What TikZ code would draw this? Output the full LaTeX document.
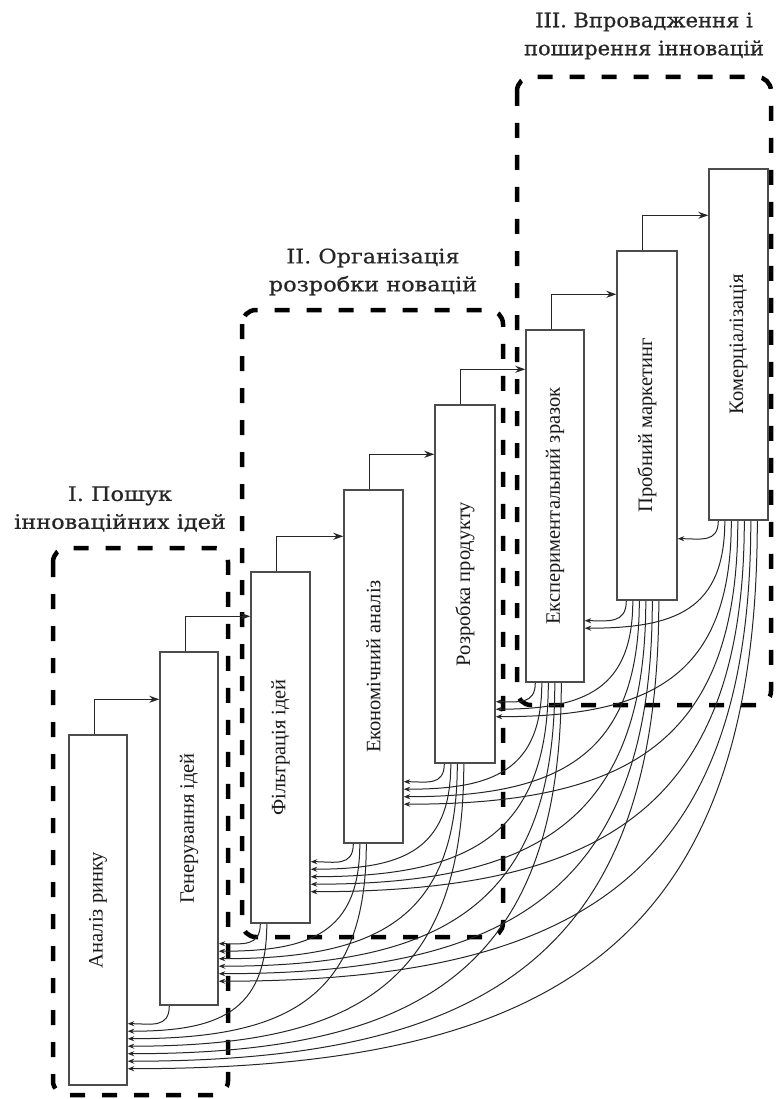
\documentclass[tikz,border=0pt]{standalone}
\usepackage{fontspec}
\setmainfont{Liberation Serif}
\newfontfamily\ttlfont[FakeStretch=1.12,FakeBold=0.6]{DejaVu Serif}
\newfontfamily\ttlnarrow[FakeStretch=1.05,FakeBold=0.6]{DejaVu Serif}
\usetikzlibrary{arrows.meta,calc}
\pgfdeclarelayer{bg}
\pgfsetlayers{bg,main}
\begin{document}
\begin{tikzpicture}[x=1pt,y=-1pt,
  blk/.style={draw=black!70, line width=1.4pt, fill=white, inner sep=0pt},
  lbl/.style={font=\fontsize{20.5}{24}\selectfont, text=black!90, rotate=90, inner sep=0pt},
  fwd/.style={draw=black!85, line width=1.2pt, -{Stealth[length=10pt,width=7pt]}},
  fb/.style={draw=black!85, line width=1pt, -{Stealth[length=6.5pt,width=5pt]}},
  grp/.style={draw=black, line width=4.5pt, dash pattern=on 15pt off 17pt, rounded corners=14pt},
  ttl/.style={font=\ttlfont\fontsize{20}{28}\selectfont, align=center, text=black!85, inner sep=0pt}]
\useasboundingbox (0,0) rectangle (776,1099);

% boxes
\node[blk, minimum width=58pt, minimum height=350pt] (b1) at (98,910) {};
\node[blk, minimum width=58pt, minimum height=353pt] (b2) at (189,828.5) {};
\node[blk, minimum width=59pt, minimum height=351pt] (b3) at (280.5,747.5) {};
\node[blk, minimum width=59pt, minimum height=353pt] (b4) at (373.5,666.5) {};
\node[blk, minimum width=60pt, minimum height=358pt] (b5) at (465,584) {};
\node[blk, minimum width=58pt, minimum height=352pt] (b6) at (555,506) {};
\node[blk, minimum width=60pt, minimum height=349pt] (b7) at (647,425.5) {};
\node[blk, minimum width=59pt, minimum height=351pt] (b8) at (738.5,344.5) {};

% labels
\node[lbl] (l1) at (b1.center) {Аналіз ринку};
\node[lbl] (l2) at (b2.center) {Генерування ідей};
\node[lbl] (l3) at (b3.center) {Фільтрація ідей};
\node[lbl] (l4) at (b4.center) {Економічний аналіз};
\node[lbl] (l5) at (b5.center) {Розробка продукту};
\node[lbl] (l6) at (b6.center) {Експериментальний зразок};
\node[lbl] (l7) at (b7.center) {Пробний маркетинг};
\node[lbl] (l8) at (b8.center) {Комерціалізація};

% forward arrows
\foreach \i [count=\n from 2] in {1,...,7}{
  \coordinate (u\i) at ([yshift=35pt]b\i.north west);
  \draw[fwd] ([xshift=26pt]b\i.north west) |- (u\i -| b\n.west);
}

\begin{pgfonlayer}{bg}
\fill[white] (0,0) rectangle (776,1099);
% group frames
\draw[grp] (53,548) rectangle (228,1095);
\draw[grp] (242,310) rectangle (503,937);
\draw[grp] (517,77) rectangle (771,705);
% feedback curves
\foreach \k in {2,...,8}{
  \pgfmathtruncatemacro\km{\k-1}
  \foreach \j in {1,...,\km}{
    \pgfmathsetmacro\xs{10+(\k-1-\j)*6.5}
    \pgfmathsetmacro\ys{62-(\k-\j-1)*7.5}
    \draw[fb] ([xshift=\xs pt]b\k.south west) to[out=-90,in=0,looseness=1.3] ([yshift=\ys pt]b\j.south east);
  }
}
\end{pgfonlayer}

% titles
\node[ttl] (tI) at (120,509) {I. Пошук\\інноваційних ідей};
\node[ttl] (tII) at (373,272) {II. Організація\\розробки новацій};
\node[ttl, font=\ttlnarrow\fontsize{20}{28}\selectfont] (tIII) at (644,36) {III. Впровадження і\\поширення інновацій};
\end{tikzpicture}
\end{document}
